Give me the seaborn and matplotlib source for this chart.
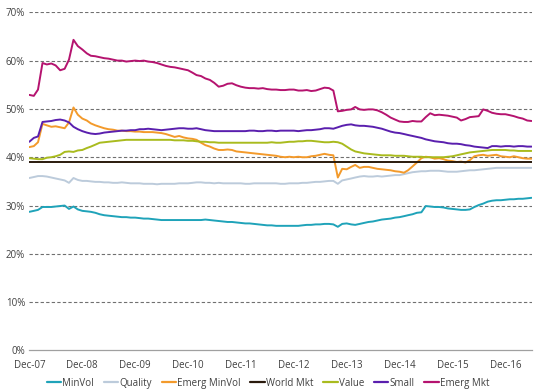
import matplotlib
matplotlib.use("Agg")
import matplotlib.pyplot as plt
import matplotlib.dates as mdates
from matplotlib.ticker import FuncFormatter
import numpy as np
import pandas as pd
import seaborn as sns

# monthly readings, Dec-07 .. Jun-17 (each row = 12 months starting at Dec)
min_vol = [
    28.7, 28.9, 29.1, 29.7, 29.7, 29.7, 29.8, 29.9, 30.0, 29.3, 29.8, 29.2,
    28.9, 28.8, 28.7, 28.5, 28.2, 28.0, 27.9, 27.8, 27.7, 27.6, 27.6, 27.5,
    27.5, 27.4, 27.3, 27.3, 27.2, 27.1, 27.0, 27.0, 27.0, 27.0, 27.0, 27.0,
    27.0, 27.0, 27.0, 27.0, 27.1, 27.0, 26.9, 26.8, 26.7, 26.6, 26.6, 26.5,
    26.4, 26.3, 26.3, 26.2, 26.1, 26.0, 25.9, 25.9, 25.8, 25.8, 25.8, 25.8,
    25.8, 25.8, 25.9, 26.0, 26.0, 26.1, 26.1, 26.2, 26.2, 26.1, 25.6, 26.2,
    26.3, 26.1, 26.0, 26.2, 26.4, 26.6, 26.7, 26.9, 27.1, 27.2, 27.3, 27.5,
    27.6, 27.8, 28.0, 28.2, 28.5, 28.6, 29.9, 29.8, 29.7, 29.7, 29.6, 29.4,
    29.3, 29.2, 29.1, 29.1, 29.2, 29.7, 30.1, 30.4, 30.8, 31.0, 31.1, 31.1,
    31.2, 31.3, 31.3, 31.4, 31.4, 31.5, 31.6,
]
quality = [
    35.7, 35.9, 36.1, 36.1, 36.0, 35.8, 35.6, 35.4, 35.2, 34.7, 35.7, 35.3,
    35.1, 35.1, 35.0, 34.9, 34.9, 34.8, 34.8, 34.7, 34.7, 34.8, 34.7, 34.6,
    34.6, 34.6, 34.5, 34.5, 34.5, 34.4, 34.5, 34.5, 34.5, 34.5, 34.6, 34.6,
    34.6, 34.7, 34.8, 34.8, 34.7, 34.7, 34.6, 34.7, 34.6, 34.6, 34.6, 34.6,
    34.6, 34.5, 34.5, 34.6, 34.6, 34.6, 34.6, 34.6, 34.6, 34.5, 34.5, 34.6,
    34.6, 34.6, 34.7, 34.7, 34.8, 34.9, 34.9, 35.0, 35.1, 35.1, 34.5, 35.2,
    35.4, 35.6, 35.8, 36.0, 36.1, 36.0, 36.0, 36.1, 36.0, 36.1, 36.2, 36.3,
    36.3, 36.5, 36.7, 36.9, 37.0, 37.1, 37.1, 37.2, 37.2, 37.2, 37.1, 37.0,
    37.0, 37.0, 37.1, 37.2, 37.3, 37.3, 37.4, 37.5, 37.6, 37.7, 37.8, 37.8,
    37.8, 37.8, 37.8, 37.8, 37.8, 37.8, 37.8,
]
emerg_min_vol = [
    42.1, 42.3, 43.1, 46.9, 46.6, 46.3, 46.4, 46.2, 46.0, 47.2, 50.3, 48.8,
    48.0, 47.6, 47.0, 46.6, 46.3, 46.0, 45.8, 45.7, 45.5, 45.5, 45.4, 45.4,
    45.3, 45.3, 45.2, 45.2, 45.2, 45.1, 45.0, 44.8, 44.5, 44.2, 44.4, 44.1,
    43.9, 43.8, 43.6, 43.0, 42.5, 42.2, 41.8, 41.5, 41.5, 41.6, 41.5, 41.2,
    41.1, 41.0, 40.9, 40.8, 40.7, 40.6, 40.5, 40.4, 40.3, 40.1, 40.0, 40.1,
    40.0, 40.1, 40.0, 40.0, 40.2, 40.3, 40.5, 40.7, 40.5, 40.4, 35.8, 37.6,
    37.5, 38.0, 38.4, 37.8, 38.0, 38.0, 37.8, 37.6, 37.5, 37.4, 37.3, 37.1,
    37.0, 36.8, 37.3, 38.1, 38.9, 39.8, 40.1, 40.0, 39.7, 39.8, 39.6, 39.3,
    39.2, 39.0, 39.1, 38.9, 39.4, 40.2, 40.4, 40.5, 40.3, 40.4, 40.5, 40.2,
    40.1, 40.0, 40.2, 40.0, 39.8, 39.7, 39.7,
]
value = [
    39.8, 39.7, 39.6, 39.6, 39.9, 40.0, 40.2, 40.5, 41.1, 41.2, 41.1, 41.4,
    41.5, 41.9, 42.2, 42.6, 43.0, 43.1, 43.2, 43.3, 43.4, 43.5, 43.6, 43.6,
    43.6, 43.6, 43.6, 43.6, 43.6, 43.6, 43.6, 43.6, 43.6, 43.5, 43.5, 43.5,
    43.4, 43.4, 43.3, 43.2, 43.2, 43.1, 43.1, 43.0, 43.0, 43.0, 43.0, 43.0,
    43.0, 43.0, 43.0, 43.0, 43.0, 43.0, 43.0, 43.1, 43.0, 43.0, 43.1, 43.2,
    43.2, 43.3, 43.3, 43.4, 43.4, 43.3, 43.2, 43.1, 43.1, 43.2, 43.1, 42.8,
    42.2, 41.6, 41.2, 41.0, 40.8, 40.7, 40.6, 40.5, 40.4, 40.4, 40.4, 40.3,
    40.3, 40.3, 40.2, 40.1, 40.1, 40.1, 40.0, 40.0, 40.0, 40.0, 40.0, 40.1,
    40.2, 40.4, 40.6, 40.8, 41.0, 41.1, 41.2, 41.3, 41.4, 41.5, 41.5, 41.5,
    41.5, 41.4, 41.4, 41.3, 41.3, 41.3, 41.3,
]
small = [
    43.2, 44.0, 44.3, 47.3, 47.4, 47.5, 47.7, 47.8, 47.6, 47.2, 46.3, 45.8,
    45.4, 45.1, 44.9, 44.8, 44.9, 45.1, 45.2, 45.3, 45.4, 45.5, 45.5, 45.6,
    45.6, 45.8, 45.8, 45.9, 45.8, 45.7, 45.6, 45.7, 45.8, 45.9, 46.0, 46.0,
    45.9, 45.9, 46.0, 45.8, 45.6, 45.5, 45.4, 45.4, 45.4, 45.4, 45.4, 45.4,
    45.4, 45.4, 45.5, 45.5, 45.4, 45.4, 45.5, 45.5, 45.4, 45.5, 45.5, 45.5,
    45.5, 45.4, 45.5, 45.6, 45.6, 45.7, 45.8, 46.0, 46.0, 45.9, 46.2, 46.5,
    46.7, 46.8, 46.6, 46.5, 46.5, 46.4, 46.3, 46.1, 45.9, 45.6, 45.3, 45.1,
    45.0, 44.8, 44.6, 44.4, 44.2, 44.0, 43.7, 43.5, 43.3, 43.2, 43.1, 42.9,
    42.8, 42.8, 42.7, 42.5, 42.4, 42.2, 42.1, 42.0, 41.9, 42.3, 42.3, 42.2,
    42.3, 42.3, 42.2, 42.3, 42.3, 42.2, 42.2,
]
emerg_mkt = [
    52.9, 52.7, 54.0, 59.5, 59.2, 59.4, 59.0, 58.0, 58.3, 60.2, 64.3, 63.0,
    62.3, 61.5, 61.0, 60.9, 60.7, 60.5, 60.4, 60.2, 60.0, 60.0, 59.8, 59.9,
    60.0, 59.9, 60.0, 59.8, 59.7, 59.5, 59.2, 58.9, 58.7, 58.6, 58.4, 58.2,
    58.0, 57.5, 57.0, 56.8, 56.3, 56.0, 55.4, 54.6, 54.8, 55.2, 55.3, 54.9,
    54.6, 54.4, 54.3, 54.3, 54.2, 54.3, 54.1, 54.0, 54.0, 53.9, 53.9, 54.0,
    54.0, 53.8, 53.8, 53.9, 53.7, 53.8, 54.1, 54.4, 54.3, 53.8, 49.5, 49.6,
    49.8, 49.9, 50.4, 49.9, 49.8, 49.9, 49.9, 49.7, 49.3, 48.8, 48.2, 47.8,
    47.4, 47.3, 47.3, 47.5, 47.4, 47.4, 48.3, 49.1, 48.7, 48.8, 48.7, 48.6,
    48.4, 48.2, 47.6, 47.9, 48.3, 48.4, 48.5, 49.9, 49.6, 49.2, 49.0, 48.9,
    48.9, 48.7, 48.5, 48.2, 48.0, 47.6, 47.5,
]
world_mkt_level = 39.0

series_names = ["MinVol", "Quality", "Emerg MinVol", "World Mkt", "Value", "Small", "Emerg Mkt"]
colors = ["#1fa3b9", "#bccbdb", "#f39a2b", "#2a1a0c", "#a9bb1e", "#5a1fae", "#b5136f"]

dates = pd.date_range("2007-12-31", periods=len(min_vol), freq="ME")
world_mkt = [world_mkt_level] * len(dates)

all_vals = [min_vol, quality, emerg_min_vol, world_mkt, value, small, emerg_mkt]
df = pd.concat(
    [pd.DataFrame({"date": dates, "pct": v, "series": n}) for n, v in zip(series_names, all_vals)],
    ignore_index=True,
)

sns.set_style("white")
plt.rcParams["font.family"] = ["Open Sans", "DejaVu Sans"]

fig = plt.figure(figsize=(5.36, 3.91), dpi=100)
ax = fig.add_axes([0.0547, 0.1036, 0.937, 0.865])

sns.lineplot(data=df, x="date", y="pct", hue="series", hue_order=series_names,
             palette=colors, linewidth=1.4, ax=ax, legend=False)

ax.set_ylim(0, 70)
ax.set_xlim(dates[0], dates[-1])
ax.set_yticks(np.arange(0, 71, 10))
ax.yaxis.set_major_formatter(FuncFormatter(lambda v, _: f"{v:.0f}%"))
for yv in range(10, 71, 10):
    ax.axhline(yv, color="#707070", linestyle=(0, (3, 2)), linewidth=0.8, zorder=0)

xticks = pd.date_range("2007-12-31", "2016-12-31", freq="12ME")
ax.set_xticks(xticks)
ax.xaxis.set_major_formatter(mdates.DateFormatter("%b-%y"))

for s in ["top", "right", "left"]:
    ax.spines[s].set_visible(False)
ax.spines["bottom"].set_color("#a0a0a0")
ax.spines["bottom"].set_linewidth(0.9)
ax.tick_params(axis="x", direction="out", length=3, color="#a0a0a0",
               labelsize=7, labelcolor="#404040", pad=4)
ax.tick_params(axis="y", length=0, labelsize=7, labelcolor="#404040", pad=3)
ax.set_xlabel("")
ax.set_ylabel("")

handles = [plt.Line2D([], [], color=c, lw=1.6) for c in colors]
fig.legend(handles, series_names, loc="center", bbox_to_anchor=(0.5, 0.02),
           ncol=7, frameon=False, fontsize=7, handlelength=1.5, handletextpad=0.1,
           columnspacing=1.0, labelcolor="#404040")

fig.savefig("out.png", dpi=100)
